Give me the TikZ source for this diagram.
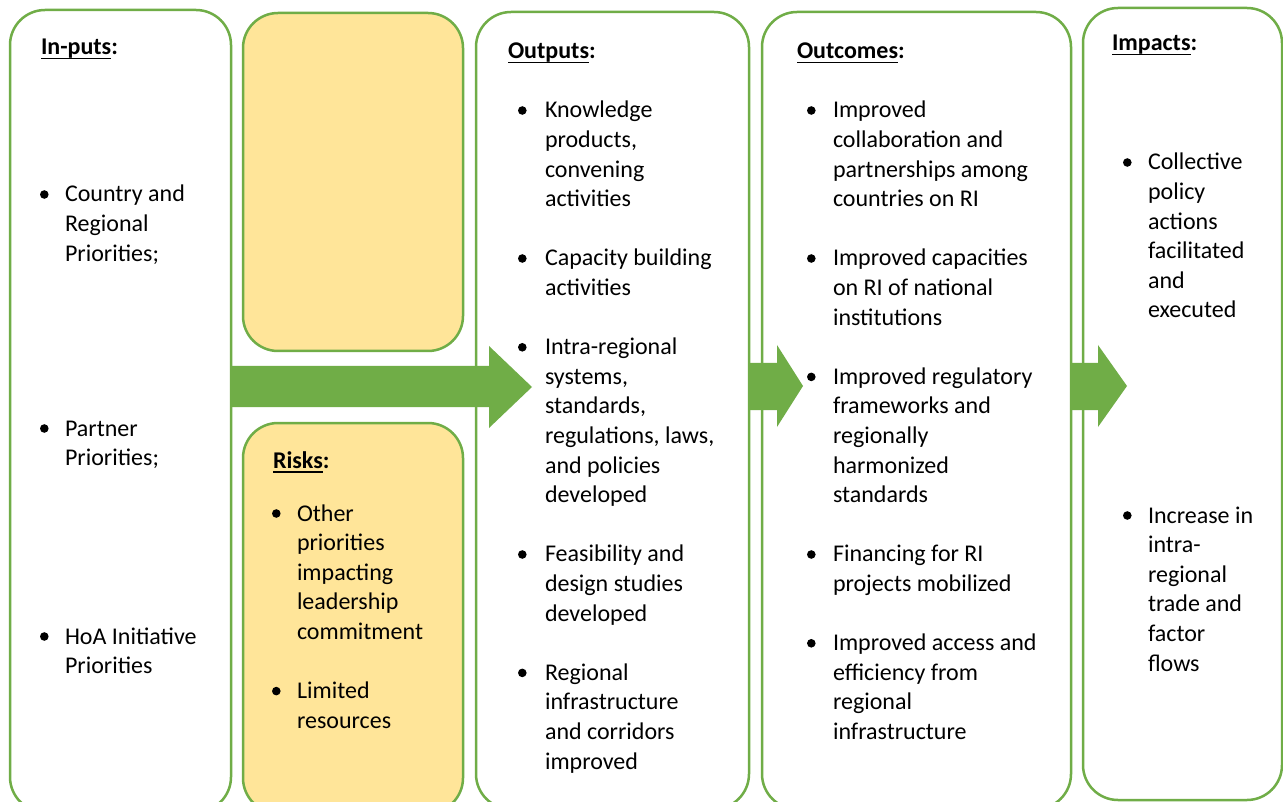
\documentclass[tikz,border=0pt]{standalone}
\usepackage{fontspec}
\setmainfont{Carlito}
\usepackage{array}
\definecolor{lgreen}{HTML}{70AD47}
\definecolor{lyellow}{HTML}{FFE599}
\newcommand\bul{\tikz[baseline=0pt]\fill[black] (0pt,7.5pt) circle[radius=4.3pt];}
\newcommand\ttl[1]{\setbox0\hbox{\bfseries #1}\rlap{\rule[-4.5pt]{\wd0}{1.8pt}}\box0\textbf{:}}
\newcommand\blist[2]{\begin{tabular}[t]{@{}p{#1}@{}l@{}}#2\end{tabular}}
\tikzset{
  box/.style={draw=lgreen, line width=2.5pt, rounded corners=35pt, anchor=north west, inner sep=0pt, outer sep=0pt},
  ybox/.style={box, fill=lyellow},
  txt/.style={anchor=base west, inner sep=0pt, outer sep=0pt, font=\fontsize{24}{29.6}\selectfont},
  bigarrow/.style={fill=lgreen, draw=none}
}
\begin{document}
\begin{tikzpicture}[x=1pt,y=-1pt]
\useasboundingbox (0,0) rectangle (1283,802);
\fill[white] (0,0) rectangle (1283,802);
% boxes
\node[box, minimum width=221pt, minimum height=802pt] (inputs) at (10,10) {};
\node[ybox, minimum width=220pt, minimum height=338pt] (assump) at (243,13) {};
\node[ybox, minimum width=220pt, minimum height=390pt] (risks) at (243,423) {};
\node[box, minimum width=273pt, minimum height=797pt] (outputs) at (476,12) {};
\node[box, minimum width=309pt, minimum height=797pt] (outcomes) at (762,12) {};
\node[box, minimum width=199pt, minimum height=792pt] (impacts) at (1083,8) {};
% block arrows
\fill[bigarrow] (inputs.east |- 0,366) -- (489,366) -- (489,346) -- (532,387) -- (489,428) -- (489,407) -- (inputs.east |- 0,407) -- cycle;
\fill[bigarrow] (outputs.east |- 0,363) -- (777,363) -- (777,345) -- (803,386) -- (777,427) -- (777,410) -- (outputs.east |- 0,410) -- cycle;
\fill[bigarrow] (outcomes.east |- 0,363) -- (1098,363) -- (1098,345) -- (1127,386) -- (1098,427) -- (1098,410) -- (outcomes.east |- 0,410) -- cycle;
% titles
\node[txt] (tin) at (41,55) {\ttl{In-puts}};
\node[txt] (trisk) at (273,468) {\ttl{Risks}};
\node[txt] (tout) at (508,59) {\ttl{Outputs}};
\node[txt] (tocm) at (797,59) {\ttl{Outcomes}};
\node[txt] (timp) at (1112,51) {\ttl{Impacts}};
% inputs
\node[txt] (in1) at (40,202) {\blist{25pt}{\bul & Country and\\ & Regional\\ & Priorities;}};
\node[txt] (in2) at (40,436) {\blist{25pt}{\bul & Partner\\ & Priorities;}};
\node[txt] (in3) at (40,644) {\blist{25pt}{\bul & HoA Initiative\\ & Priorities}};
% risks
\node[txt] (rl) at (272,521) {\blist{25pt}{\bul & Other\\ & priorities\\ & impacting\\ & leadership\\ & commitment\\ & \\
\bul & Limited\\ & resources}};
% outputs
\node[txt] (ol) at (518,118) {\blist{27pt}{\bul & Knowledge\\ & products,\\ & convening\\ & activities\\ & \\
\bul & Capacity building\\ & activities\\ & \\
\bul & Intra-regional\\ & systems,\\ & standards,\\ & regulations, laws,\\ & and policies\\ & developed\\ & \\
\bul & Feasibility and\\ & design studies\\ & developed\\ & \\
\bul & Regional\\ & infrastructure\\ & and corridors\\ & improved}};
% outcomes
\node[txt] (cl) at (807,118) {\blist{26pt}{\bul & Improved\\ & collaboration and\\ & partnerships among\\ & countries on RI\\ & \\
\bul & Improved capacities\\ & on RI of national\\ & institutions\\ & \\
\bul & Improved regulatory\\ & frameworks and\\ & regionally\\ & harmonized\\ & standards\\ & \\
\bul & Financing for RI\\ & projects mobilized\\ & \\
\bul & Improved access and\\ & efficiency from\\ & regional\\ & infrastructure}};
% impacts
\node[txt] (im1) at (1123,170) {\blist{25pt}{\bul & Collective\\ & policy\\ & actions\\ & facilitated\\ & and\\ & executed}};
\node[txt] (im2) at (1123,523) {\blist{25pt}{\bul & Increase in\\ & intra-\\ & regional\\ & trade and\\ & factor\\ & flows}};
\end{tikzpicture}
\end{document}
